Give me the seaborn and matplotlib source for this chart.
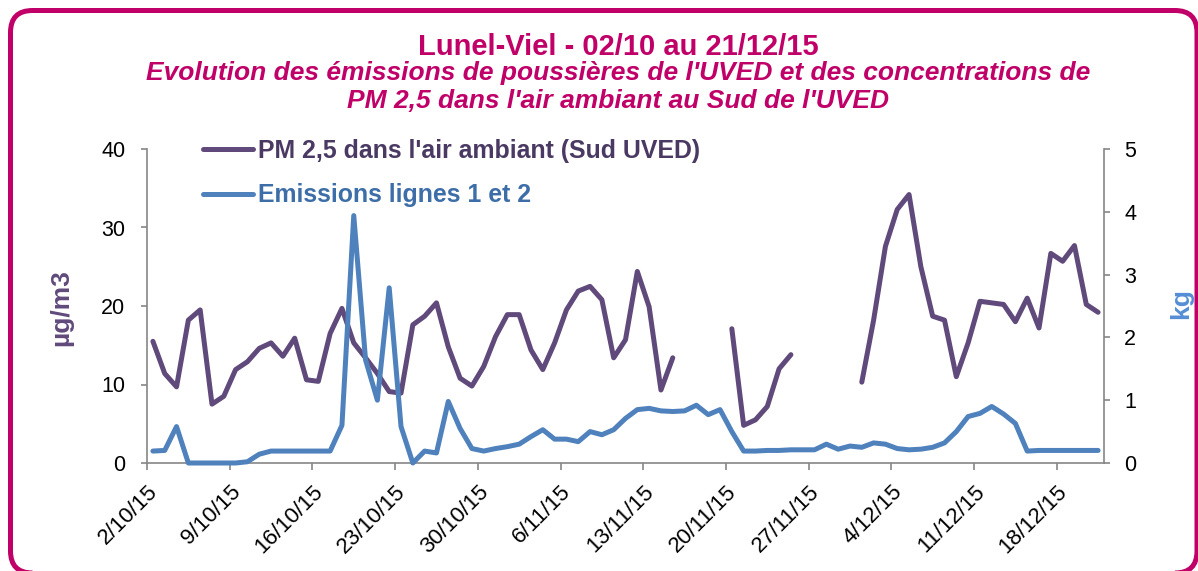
import numpy as np
import pandas as pd
import matplotlib
matplotlib.use('Agg')
import matplotlib.pyplot as plt
import seaborn as sns
from matplotlib.patches import FancyBboxPatch
from matplotlib.lines import Line2D
from matplotlib.transforms import IdentityTransform

nan = np.nan

# 1. Données (journalières, du 02/10/15 au 21/12/15)
jours = list(range(81))

# PM 2,5 dans l'air ambiant (µg/m3), trous = données manquantes
pm25 = [15.5, 11.4, 9.7, 18.2, 19.5, 7.5, 8.5, 11.9, 12.9, 14.6,
        15.3, 13.6, 15.9, 10.6, 10.4, 16.5, 19.7, 15.3, 13.4, 11.4,
        9.1, 8.9, 17.6, 18.7, 20.4, 14.8, 10.8, 9.8, 12.3, 16.1,
        18.9, 18.9, 14.4, 11.9, 15.3, 19.5, 21.9, 22.5, 20.8, 13.4,
        15.7, 24.4, 19.9, 9.3, 13.4, nan, nan, nan, nan, 17.1,
        4.8, 5.5, 7.2, 12.0, 13.8, nan, nan, nan, nan, nan,
        10.3, 18.2, 27.6, 32.3, 34.2, 25.0, 18.7, 18.2, 11.0, 15.3,
        20.6, 20.4, 20.2, 18.0, 21.0, 17.2, 26.7, 25.7, 27.7, 20.2,
        19.2]

# Emissions lignes 1 et 2 (kg)
emissions = [0.19, 0.20, 0.58, 0.00, 0.00, 0.00, 0.00, 0.00, 0.02, 0.14,
             0.19, 0.19, 0.19, 0.19, 0.19, 0.19, 0.60, 3.94, 1.64, 1.00,
             2.79, 0.58, 0.00, 0.19, 0.16, 0.98, 0.55, 0.23, 0.19, 0.23,
             0.26, 0.30, 0.42, 0.53, 0.38, 0.38, 0.34, 0.50, 0.45, 0.53,
             0.71, 0.85, 0.87, 0.83, 0.82, 0.83, 0.92, 0.77, 0.85, 0.50,
             0.19, 0.19, 0.20, 0.20, 0.21, 0.21, 0.21, 0.30, 0.22, 0.27,
             0.25, 0.32, 0.30, 0.23, 0.21, 0.22, 0.25, 0.32, 0.50, 0.74,
             0.79, 0.90, 0.78, 0.63, 0.19, 0.20, 0.20, 0.20, 0.20, 0.20,
             0.20]

etiquettes_x = ['2/10/15', '9/10/15', '16/10/15', '23/10/15', '30/10/15', '6/11/15',
                '13/11/15', '20/11/15', '27/11/15', '4/12/15', '11/12/15', '18/12/15']
ticks_pm = [0, 10, 20, 30, 40]
ticks_kg = [0, 1, 2, 3, 4, 5]
legende = ["PM 2,5 dans l'air ambiant (Sud UVED)", "Emissions lignes 1 et 2"]

VIOLET = '#604A7B'
VIOLET_TXT = '#4A3A63'
BLEU = '#4F81BD'
BLEU_TXT = '#3E6EA8'
BLEU_AXE = '#558ED5'
MAGENTA = '#C00068'
GRIS = '#868686'

# 2. Préparation
df = pd.DataFrame({'x': np.array(jours) + 0.5, 'pm25': pm25, 'emis': emissions})
df['seg'] = df['pm25'].isna().cumsum()
pm = df.dropna(subset=['pm25'])

# 3. Graphique
sns.set_theme(style='white')
plt.rcParams['font.family'] = ['Liberation Sans', 'DejaVu Sans']

W, H = 1198, 571
fig = plt.figure(figsize=(W / 100, H / 100), dpi=100)
ax = fig.add_axes([147 / W, 1 - 463 / H, (1104 - 147) / W, (463 - 149) / H])
ax2 = ax.twinx()

sns.lineplot(data=pm, x='x', y='pm25', units='seg', estimator=None, color=VIOLET,
             lw=3.6, ax=ax, solid_capstyle='round', solid_joinstyle='round')
sns.lineplot(data=df, x='x', y='emis', color=BLEU, lw=3.6, ax=ax2,
             solid_capstyle='round', solid_joinstyle='round')
for ln in ax2.lines:
    ln.set_clip_on(False)

ax.set_xlim(0, 81)
ax.set_ylim(0, 40)
ax2.set_ylim(0, 5)
ax.set_xticks(range(0, 81, 7))
ax.set_xticklabels(etiquettes_x, rotation=45, ha='right', va='top', rotation_mode='anchor')
ax.set_yticks(ticks_pm)
ax2.set_yticks(ticks_kg)
for a in (ax, ax2):
    a.set_xlabel('')
    a.set_ylabel('')

ax.spines['top'].set_visible(False)
ax.spines['right'].set_visible(False)
ax2.spines['top'].set_visible(False)
ax2.spines['left'].set_visible(False)
ax2.spines['bottom'].set_visible(False)
for a in (ax, ax2):
    for s in a.spines.values():
        s.set_color(GRIS)
        s.set_linewidth(1.2)

ax.tick_params(axis='x', bottom=True, length=5, width=1.2, color=GRIS, pad=8,
               labelsize=16, labelcolor='black')
ax.tick_params(axis='y', left=True, length=4.5, width=1.2, color=GRIS, pad=11,
               labelsize=15.5, labelcolor='black')
ax2.tick_params(axis='y', right=True, length=4.5, width=1.2, color=GRIS, pad=10,
                labelsize=15.5, labelcolor='black')

# Légende
poignees = [Line2D([], [], color=VIOLET, lw=3.6, solid_capstyle='round'),
            Line2D([], [], color=BLEU, lw=3.6, solid_capstyle='round')]
leg = ax2.legend(poignees, legende, loc='upper left', bbox_to_anchor=(203 / W, 1 - 139 / H),
                 bbox_transform=fig.transFigure, frameon=False, fontsize=17.9,
                 handlelength=2.0, handletextpad=0.2, labelspacing=0.82,
                 borderpad=0, borderaxespad=0)
for t, c in zip(leg.get_texts(), [VIOLET_TXT, BLEU_TXT]):
    t.set_color(c)
    t.set_fontweight('bold')

# Titres
fig.text(618 / W, 1 - 55 / H, 'Lunel-Viel - 02/10 au 21/12/15', ha='center', va='baseline',
         fontsize=21, fontweight='bold', color=MAGENTA)
fig.text(618 / W, 1 - 80 / H,
         "Evolution des émissions de poussières de l'UVED et des concentrations de",
         ha='center', va='baseline', fontsize=19, fontweight='bold', fontstyle='italic', color=MAGENTA)
fig.text(618 / W, 1 - 107.5 / H, "PM 2,5 dans l'air ambiant au Sud de l'UVED",
         ha='center', va='baseline', fontsize=19, fontweight='bold', fontstyle='italic', color=MAGENTA)

fig.text(61 / W, 1 - 308 / H, 'µg/m3', rotation=90, ha='center', va='center',
         fontsize=19, fontweight='bold', color=VIOLET)
fig.text(1181 / W, 1 - 303.5 / H, 'kg', rotation=90, ha='center', va='center',
         fontsize=19, fontweight='bold', color=BLEU_AXE)

# Cadre arrondi
cadre = FancyBboxPatch((10.5, -2), 1197 - 10.5, (H - 10.5) + 2,
                       boxstyle='round,pad=0,rounding_size=22', transform=IdentityTransform(),
                       fill=False, ec=MAGENTA, lw=3.6)
fig.add_artist(cadre)

fig.savefig('out.png', dpi=100)
